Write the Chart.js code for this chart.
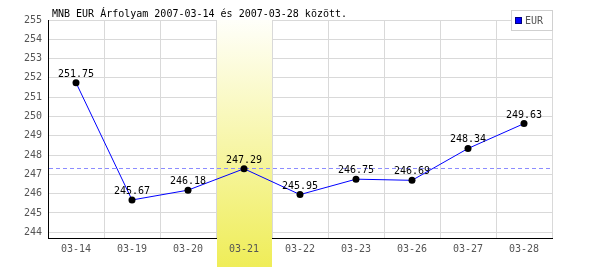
<!DOCTYPE html>
<html>
<head>
<meta charset="utf-8">
<script src="https://cdn.jsdelivr.net/npm/chart.js@4/dist/chart.umd.min.js"></script>
<style>
    body { margin: 0; background: #fff; }
    canvas { display: block; }
</style>
</head>
<body>
<canvas id="rateChart" width="600" height="270"></canvas>
<script>
const dayLabels = ['03-14', '03-19', '03-20', '03-21', '03-22', '03-23', '03-26', '03-27', '03-28'];
const eurRates = [251.75, 245.67, 246.18, 247.29, 245.95, 246.75, 246.69, 248.34, 249.63];
const yTicks = [244, 245, 246, 247, 248, 249, 250, 251, 252, 253, 254, 255];
const yMin = 243.7;
const yMax = 255;
const refLine = 247.32;
const highlightIndex = 3;
const chartTitle = 'MNB EUR Árfolyam 2007-03-14 és 2007-03-28 között.';
const seriesName = 'EUR';

const monoFont = '"DejaVu Sans Mono", "Liberation Mono", monospace';

// yellow column behind the highlighted day + dashed reference line
const highlightPlugin = {
    id: 'highlight',
    beforeDatasetsDraw(chart) {
        const ctx = chart.ctx;
        const area = chart.chartArea;
        const x = chart.scales.x;
        const y = chart.scales.y;
        const half = (x.getPixelForValue(1) - x.getPixelForValue(0)) / 2;
        const c = x.getPixelForValue(highlightIndex);
        const left = Math.round(c - half) + 1;
        const right = Math.round(c + half);
        const bottom = 267;

        ctx.save();
        const grad = ctx.createLinearGradient(0, area.top, 0, bottom);
        grad.addColorStop(0, '#fffffa');
        grad.addColorStop(1, '#efed58');
        ctx.fillStyle = grad;
        ctx.fillRect(left, area.top, right - left, bottom - area.top);

        const ly = Math.round(y.getPixelForValue(refLine)) + 0.5;
        ctx.strokeStyle = '#8c8cff';
        ctx.lineWidth = 1;
        ctx.setLineDash([4, 3]);
        ctx.beginPath();
        ctx.moveTo(area.left + 1, ly);
        ctx.lineTo(area.right, ly);
        ctx.stroke();
        ctx.restore();
    },
};

const valueLabelPlugin = {
    id: 'valueLabels',
    afterDatasetsDraw(chart) {
        const ctx = chart.ctx;
        const meta = chart.getDatasetMeta(0);
        ctx.save();
        ctx.font = '10px ' + monoFont;
        ctx.fillStyle = '#000';
        ctx.textAlign = 'center';
        ctx.textBaseline = 'alphabetic';
        meta.data.forEach((pt, i) => {
            ctx.fillText(eurRates[i].toFixed(2), pt.x, pt.y - 6);
        });
        ctx.restore();
    },
};

const titleLegendPlugin = {
    id: 'titleLegend',
    afterDraw(chart) {
        const ctx = chart.ctx;
        ctx.save();
        ctx.font = '10px ' + monoFont;
        ctx.fillStyle = '#000';
        ctx.textAlign = 'left';
        ctx.textBaseline = 'middle';
        ctx.fillText(chartTitle, 52, 14);

        // legend box
        ctx.fillStyle = '#fff';
        ctx.fillRect(511, 10, 41, 20);
        ctx.strokeStyle = '#d0d0d0';
        ctx.lineWidth = 1;
        ctx.strokeRect(511.5, 10.5, 41, 20);
        ctx.fillStyle = '#0000ff';
        ctx.fillRect(516, 18, 6, 6);
        ctx.strokeStyle = '#000080';
        ctx.strokeRect(515.5, 17.5, 6, 6);
        ctx.fillStyle = '#555';
        ctx.fillText(seriesName, 525, 21);
        ctx.restore();
    },
};

new Chart(document.getElementById('rateChart'), {
    type: 'line',
    data: {
        labels: dayLabels,
        datasets: [
            {
                label: seriesName,
                data: eurRates,
                borderColor: '#0000ff',
                borderWidth: 1,
                tension: 0,
                fill: false,
                pointRadius: 3.5,
                pointBackgroundColor: '#000',
                pointBorderColor: '#000',
                pointBorderWidth: 0,
            },
        ],
    },
    options: {
        responsive: false,
        animation: false,
        layout: { padding: { top: 20, right: 48, left: 0, bottom: 0 } },
        plugins: {
            legend: { display: false },
            title: { display: false },
            tooltip: { enabled: false },
        },
        scales: {
            x: {
                offset: true,
                grid: { offset: true, color: '#d9d9d9', drawTicks: false, z: -1 },
                border: { color: '#000', width: 1 },
                ticks: {
                    z: 1,
                    color: '#555',
                    font: { family: monoFont, size: 10 },
                    padding: 5,
                    maxRotation: 0,
                    autoSkip: false,
                },
                afterFit: scale => { scale.height = 32; },
            },
            y: {
                min: yMin,
                max: yMax,
                grid: { color: '#d9d9d9', drawTicks: false, z: -1 },
                border: { color: '#000', width: 1 },
                ticks: {
                    color: '#555',
                    font: { family: monoFont, size: 10 },
                    padding: 6,
                },
                afterBuildTicks: scale => {
                    scale.ticks = yTicks.map(v => ({ value: v }));
                },
                afterFit: scale => { scale.width = 48; },
            },
        },
    },
    plugins: [highlightPlugin, valueLabelPlugin, titleLegendPlugin],
});
</script>
</body>
</html>
